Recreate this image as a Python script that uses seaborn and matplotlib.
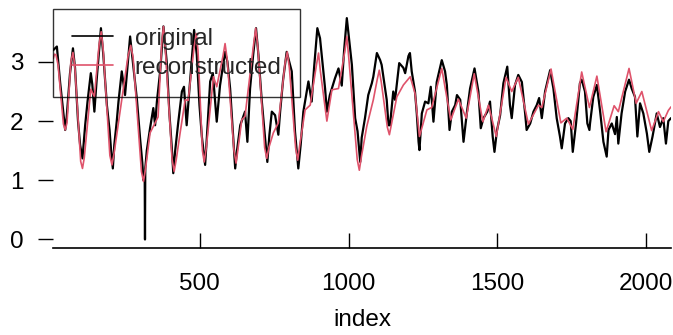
import matplotlib
matplotlib.use("Agg")
import matplotlib.pyplot as plt
import pandas as pd
import seaborn as sns

# ---- data ----
orig_index = [8, 20, 31, 48, 53, 64, 74, 81, 91, 98, 104, 106, 109, 115, 123, 134, 139, 146, 154, 168,
              176, 188, 197, 202, 208, 213, 221, 227, 238, 249, 257, 266, 277, 289, 300, 307, 311, 315, 316, 317,
              322, 333, 344, 350, 356, 367, 378, 389, 398, 406, 411, 417, 428, 440, 447, 456, 465, 481, 490, 499,
              507, 518, 524, 535, 544, 557, 568, 585, 593, 602, 611, 619, 625, 636, 652, 660, 669, 679, 689, 697,
              708, 720, 727, 734, 742, 753, 764, 770, 780, 792, 809, 820, 831, 839, 848, 865, 876, 884, 895, 904,
              914, 921, 927, 937, 954, 966, 977, 985, 994, 1011, 1022, 1030, 1039, 1044, 1055, 1066, 1078, 1083, 1095, 1106,
              1111, 1128, 1134, 1139, 1150, 1156, 1170, 1184, 1190, 1201, 1206, 1212, 1223, 1229, 1235, 1238, 1246, 1257, 1268, 1276,
              1285, 1296, 1313, 1324, 1330, 1339, 1347, 1358, 1364, 1375, 1386, 1397, 1408, 1423, 1436, 1444, 1453, 1466, 1475, 1484,
              1490, 1498, 1509, 1520, 1533, 1542, 1548, 1559, 1570, 1582, 1593, 1598, 1610, 1621, 1632, 1640, 1649, 1660, 1677, 1688,
              1699, 1710, 1716, 1727, 1738, 1746, 1753, 1764, 1777, 1783, 1794, 1802, 1809, 1811, 1822, 1834, 1845, 1856, 1867, 1873,
              1884, 1895, 1901, 1906, 1917, 1929, 1942, 1951, 1962, 1970, 1979, 1990, 2002, 2010, 2021, 2035, 2046, 2057, 2066, 2074,
              2083]
orig_value = [3.20, 3.26, 2.65, 1.85, 2.07, 2.80, 3.23, 2.90, 2.00, 1.60, 1.42, 1.37, 1.55, 1.93, 2.33, 2.81, 2.62, 2.16, 2.72, 3.57,
              3.12, 2.27, 1.85, 1.51, 1.20, 1.60, 1.99, 2.33, 2.84, 2.44, 2.90, 3.43, 2.92, 2.36, 1.68, 1.30, 1.00, 1.10, 0.00, 1.20,
              1.50, 1.88, 2.22, 1.93, 2.33, 2.84, 3.60, 3.00, 2.13, 1.56, 1.12, 1.48, 1.99, 2.50, 2.58, 1.93, 2.52, 3.54, 3.12, 2.27,
              1.74, 1.26, 1.74, 2.67, 2.81, 1.99, 2.60, 3.17, 3.00, 2.55, 1.82, 1.20, 1.50, 1.93, 2.16, 1.65, 2.55, 3.10, 3.57, 3.12,
              2.36, 1.68, 1.31, 1.77, 2.16, 2.10, 1.77, 2.16, 2.70, 3.17, 2.84, 1.82, 1.20, 1.60, 2.16, 2.67, 2.33, 2.90, 3.57, 3.40,
              2.90, 2.55, 2.16, 2.44, 2.72, 2.89, 2.60, 3.20, 3.74, 2.95, 2.05, 1.83, 1.31, 1.72, 2.05, 2.44, 2.64, 2.75, 3.15, 3.03,
              2.95, 2.36, 1.93, 1.93, 2.50, 2.36, 2.98, 2.90, 2.81, 3.10, 3.15, 2.84, 2.50, 2.13, 1.65, 1.51, 2.13, 2.33, 2.30, 2.58,
              1.99, 2.66, 3.03, 2.84, 2.61, 1.85, 2.16, 2.27, 2.44, 2.36, 1.65, 2.13, 2.55, 2.89, 2.50, 1.88, 2.05, 2.16, 2.33, 1.74,
              1.48, 1.83, 2.10, 2.64, 2.92, 2.27, 2.05, 2.61, 2.78, 2.66, 2.13, 1.85, 1.96, 2.16, 2.27, 2.39, 2.05, 2.50, 2.86, 2.55,
              2.05, 1.74, 1.54, 1.96, 2.05, 2.00, 1.48, 1.96, 2.64, 2.70, 2.50, 1.96, 1.85, 1.96, 2.41, 2.61, 2.16, 1.65, 1.40, 1.85,
              1.96, 1.78, 2.07, 1.62, 2.13, 2.50, 2.70, 2.55, 2.41, 1.74, 2.30, 2.13, 1.79, 1.48, 1.74, 2.13, 1.90, 2.05, 1.62, 2.00,
              2.05]

rec_index = [8, 12, 17, 24, 42, 48, 54, 67, 74, 80, 100, 106, 112, 134, 146, 162, 169, 175, 198, 205,
             212, 259, 268, 276, 304, 311, 318, 333, 360, 372, 378, 384, 407, 414, 421, 434, 451, 461, 481, 488,
             494, 509, 515, 522, 546, 557, 578, 585, 592, 615, 622, 629, 641, 652, 681, 688, 695, 718, 725, 732,
             747, 764, 787, 794, 801, 822, 829, 836, 854, 871, 892, 899, 905, 927, 944, 966, 988, 994, 1000, 1029,
             1036, 1043, 1061, 1083, 1096, 1103, 1110, 1130, 1137, 1144, 1162, 1184, 1207, 1223, 1238, 1263, 1279, 1313, 1343, 1369,
             1395, 1422, 1451, 1470, 1496, 1529, 1548, 1570, 1604, 1638, 1649, 1680, 1713, 1733, 1753, 1783, 1809, 1834, 1865, 1892,
             1906, 1942, 1966, 1985, 2018, 2041, 2057, 2074, 2083]
rec_value = [3.06, 3.13, 3.12, 2.95, 1.95, 1.85, 1.97, 3.00, 3.16, 2.95, 1.32, 1.20, 1.38, 2.54, 2.41, 3.30, 3.51, 3.25, 1.42, 1.26,
             1.45, 3.10, 3.28, 3.08, 1.15, 0.98, 1.20, 1.80, 2.07, 3.30, 3.60, 3.25, 1.35, 1.15, 1.35, 1.80, 2.36, 2.35, 3.25, 3.48,
             3.20, 1.50, 1.31, 1.55, 2.75, 2.58, 3.10, 3.31, 3.05, 1.50, 1.29, 1.55, 2.02, 2.08, 3.30, 3.57, 3.25, 1.55, 1.37, 1.55,
             1.80, 1.97, 3.00, 3.17, 2.90, 1.55, 1.34, 1.60, 2.19, 2.27, 2.95, 3.15, 2.85, 2.00, 2.53, 2.55, 3.20, 3.43, 3.10, 1.35,
             1.17, 1.40, 1.91, 2.36, 2.70, 2.86, 2.65, 1.90, 1.77, 1.95, 2.41, 2.61, 2.75, 2.47, 1.74, 2.19, 2.23, 2.89, 2.02, 2.37,
             2.05, 2.80, 1.99, 2.27, 1.74, 2.74, 2.50, 2.74, 1.95, 2.27, 2.23, 2.88, 1.97, 2.05, 1.86, 2.83, 2.23, 2.76, 1.82, 2.26,
             2.16, 2.89, 2.30, 2.50, 1.84, 2.16, 1.99, 2.18, 2.24]

x_ticks = [500, 1000, 1500, 2000]
y_ticks = [0, 1, 2, 3]
series_names = ["original", "reconstructed"]
series_colors = ["black", "#DF536B"]

# ---- figure ----
sns.set_style("white")
plt.rcParams["font.family"] = ["Liberation Sans", "DejaVu Sans"]

W, H = 673, 335
fig = plt.figure(figsize=(W / 100, H / 100), dpi=100)
left, right, top, bottom = 53.3, 671.0, 9.3, 248.3
ax = fig.add_axes([left / W, (H - bottom) / H, (right - left) / W, (bottom - top) / H])

df_o = pd.DataFrame({"index": orig_index, "value": orig_value})
df_r = pd.DataFrame({"index": rec_index, "value": rec_value})
sns.lineplot(data=df_o, x="index", y="value", ax=ax, color=series_colors[0], lw=1.6,
             label=series_names[0], estimator=None, sort=False)
sns.lineplot(data=df_r, x="index", y="value", ax=ax, color=series_colors[1], lw=1.2,
             label=series_names[1], estimator=None, sort=False)

ax.set_xlim(8, 2083)
ax.set_ylim(-0.149, 3.889)
ax.set_xticks(x_ticks)
ax.set_yticks(y_ticks)

for s in ["top", "right", "left"]:
    ax.spines[s].set_visible(False)
ax.spines["bottom"].set_color("black")
ax.spines["bottom"].set_linewidth(1.2)

fs = 17.5
ax.tick_params(axis="x", bottom=True, direction="in", length=10.8, width=1.0, color="black",
               pad=18, labelsize=fs, labelcolor="black")
ax.tick_params(axis="y", left=True, direction="out", length=10.8, width=1.0, color="black",
               pad=10.5, labelsize=fs, labelcolor="black")
ax.set_xlabel("index", fontsize=fs, color="black", labelpad=10)
ax.set_ylabel("")

leg = ax.legend(loc="upper left", frameon=True, fancybox=False, edgecolor="black",
                facecolor="none", borderaxespad=0, borderpad=0.75, handlelength=1.7,
                handletextpad=0.9, labelspacing=0.3, fontsize=fs)
leg.get_frame().set_linewidth(1.0)
for h in leg.get_lines():
    h.set_linewidth(1.2)

fig.savefig("out.png", dpi=100)
